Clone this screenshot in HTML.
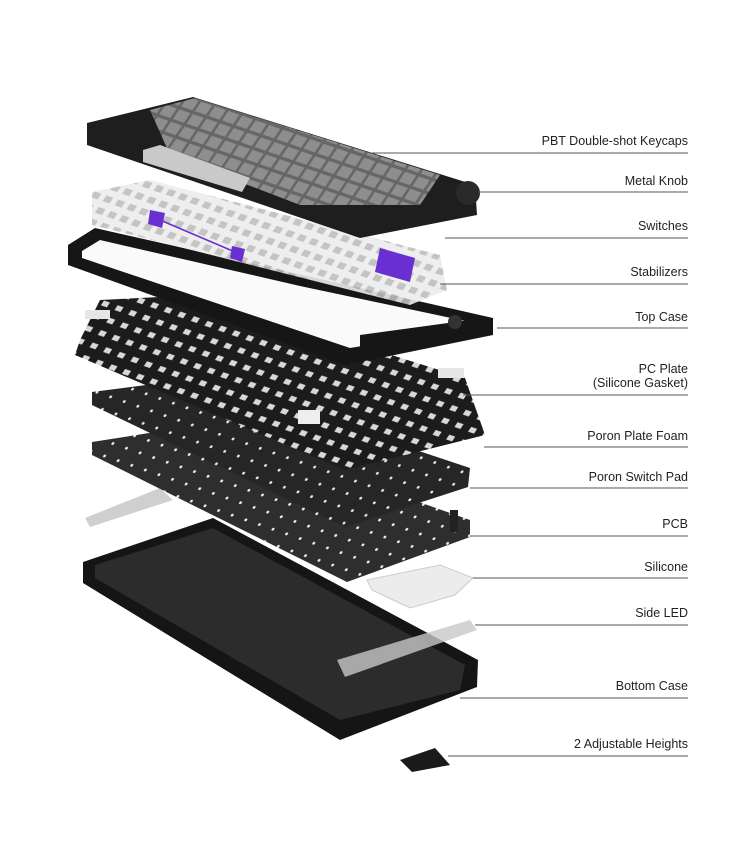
<!DOCTYPE html>
<html><head><meta charset="utf-8"><style>
html,body{margin:0;padding:0;background:#fff;}
.w{position:relative;width:750px;height:865px;overflow:hidden;font-family:"Liberation Sans",sans-serif;}
.l{position:absolute;right:62px;font-size:12.5px;color:#222;text-align:right;line-height:14px;white-space:nowrap;}
</style></head><body><div class="w">
<svg width="750" height="865" viewBox="0 0 750 865" style="position:absolute;left:0;top:0">
<defs>
<pattern id="holes" width="16" height="13" patternUnits="userSpaceOnUse" patternTransform="skewX(-20) rotate(17)">
<rect width="16" height="13" fill="#262626"/><circle cx="8" cy="6" r="1.4" fill="#e8e8e8"/></pattern>
<pattern id="holes2" width="16" height="13" patternUnits="userSpaceOnUse" patternTransform="skewX(-20) rotate(17)">
<rect width="16" height="13" fill="#2e2e2e"/><circle cx="8" cy="6" r="1.4" fill="#eee"/></pattern>
<pattern id="grid" width="16" height="13" patternUnits="userSpaceOnUse" patternTransform="skewX(-20) rotate(17)">
<rect width="16" height="13" fill="#1c1c1c"/><rect x="4" y="4" width="7" height="5" fill="#d8d8d8"/></pattern>
<pattern id="keys" width="16" height="13" patternUnits="userSpaceOnUse" patternTransform="skewX(-20) rotate(17)">
<rect width="16" height="13" fill="#666"/><rect x="1.5" y="1.5" width="13" height="10" fill="#8e8e8e"/></pattern>
<pattern id="sw" width="14" height="12" patternUnits="userSpaceOnUse" patternTransform="skewX(-20) rotate(17)">
<rect width="14" height="12" fill="#ececec"/><rect x="3" y="3" width="8" height="6" fill="#bdbdbd"/></pattern>
</defs>
<polygon points="83,562 213,518 478,660 477,687 340,740 83,583" fill="#151515"/>
<polygon points="95,565 213,528 465,665 460,690 340,720 95,578" fill="#2c2c2c"/>
<polygon points="337,660 470,620 477,630 345,677" fill="#c8c8c8" opacity=".8"/>
<polygon points="85,518 160,488 173,500 90,527" fill="#cfcfcf"/>
<polygon points="92,442 200,425 470,520 470,537 347,582 92,455" fill="url(#holes2)"/>
<rect x="450" y="510" width="8" height="22" fill="#222"/>
<polygon points="367,580 440,565 473,578 455,595 410,608 372,590" fill="#ececec" stroke="#ccc"/>
<polygon points="92,392 200,378 470,468 468,487 345,527 92,405" fill="url(#holes)"/>
<polygon points="80,340 100,300 200,295 465,378 485,435 345,470 75,355" fill="url(#grid)"/>
<rect x="85" y="310" width="25" height="9" fill="#e6e6e6"/>
<rect x="298" y="410" width="22" height="14" fill="#eee"/>
<rect x="438" y="368" width="26" height="10" fill="#e6e6e6"/>
<polygon points="68,245 95,228 493,318 493,335 345,365 68,265" fill="#161616"/>
<polygon points="82,251 100,240 300,286 470,322 460,330 350,348 82,258" fill="#fafafa"/>
<polygon points="360,335 470,320 475,330 360,350" fill="#161616"/>
<circle cx="455" cy="322" r="7" fill="#333"/>
<polygon points="92,192 150,180 440,255 447,290 410,305 92,225" fill="url(#sw)" opacity=".9"/>
<polygon points="150,210 165,213 162,228 148,224" fill="#6a2fd0"/>
<line x1="160" y1="220" x2="235" y2="252" stroke="#6a2fd0" stroke-width="1.5"/>
<polygon points="232,246 245,249 242,262 230,258" fill="#6a2fd0"/>
<polygon points="380,248 415,258 410,282 375,272" fill="#6a2fd0"/>
<polygon points="87,123 193,97 475,185 477,215 360,238 87,145" fill="#1e1e1e"/>
<polygon points="150,110 195,98 440,175 420,205 300,205 170,155" fill="url(#keys)"/>
<polygon points="143,150 160,145 250,178 242,192 143,162" fill="#c9c9c9"/>
<circle cx="468" cy="193" r="12" fill="#2a2a2a"/>
<polygon points="400,760 435,748 450,765 412,772" fill="#1a1a1a"/>
<g stroke="#555" stroke-width="1">
<line x1="372" y1="153" x2="688" y2="153"/>
<line x1="478" y1="192" x2="688" y2="192"/>
<line x1="445" y1="238" x2="688" y2="238"/>
<line x1="440" y1="284" x2="688" y2="284"/>
<line x1="497" y1="328" x2="688" y2="328"/>
<line x1="463" y1="395" x2="688" y2="395"/>
<line x1="484" y1="447" x2="688" y2="447"/>
<line x1="470" y1="488" x2="688" y2="488"/>
<line x1="470" y1="536" x2="688" y2="536"/>
<line x1="473" y1="578" x2="688" y2="578"/>
<line x1="475" y1="625" x2="688" y2="625"/>
<line x1="460" y1="698" x2="688" y2="698"/>
<line x1="448" y1="756" x2="688" y2="756"/>
</g>
</svg>
<div class="l" style="top:134px">PBT Double-shot Keycaps</div>
<div class="l" style="top:174px">Metal Knob</div>
<div class="l" style="top:219px">Switches</div>
<div class="l" style="top:265px">Stabilizers</div>
<div class="l" style="top:310px">Top Case</div>
<div class="l" style="top:362px">PC Plate<br>(Silicone Gasket)</div>
<div class="l" style="top:429px">Poron Plate Foam</div>
<div class="l" style="top:470px">Poron Switch Pad</div>
<div class="l" style="top:517px">PCB</div>
<div class="l" style="top:560px">Silicone</div>
<div class="l" style="top:606px">Side LED</div>
<div class="l" style="top:679px">Bottom Case</div>
<div class="l" style="top:737px">2 Adjustable Heights</div>
</div></body></html>
